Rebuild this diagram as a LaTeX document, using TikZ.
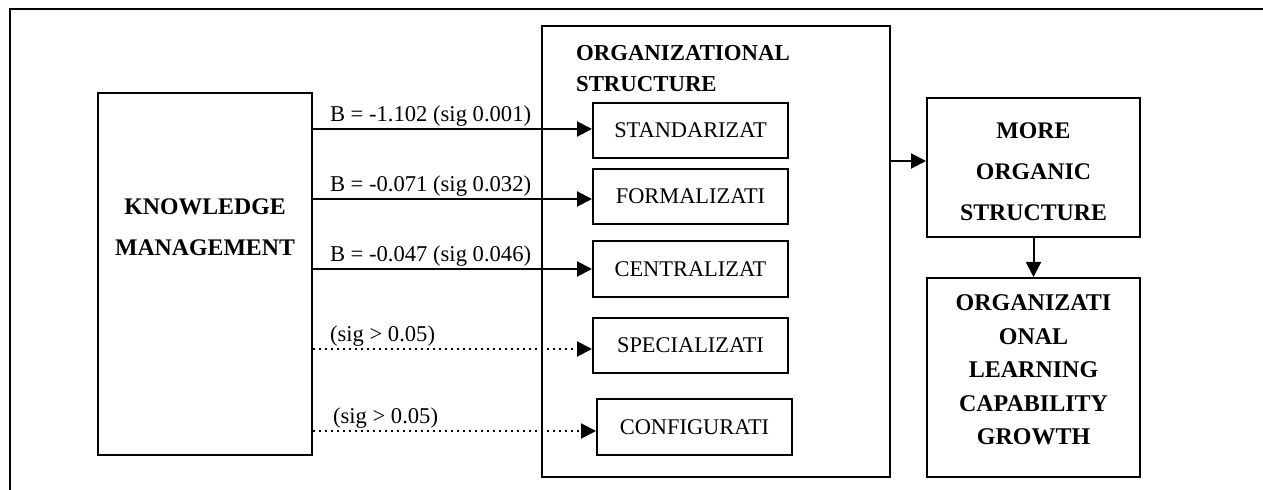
\documentclass[tikz,border=0pt]{standalone}
\usepackage{fontspec}
\setmainfont{Liberation Serif}
\usepackage{tikz}
\usetikzlibrary{arrows.meta,positioning,calc}

\tikzset{
	box/.style={draw,line width=1pt,inner sep=0pt},
	smallbox/.style={box,minimum width=97.5pt,minimum height=27.5pt,font=\fontsize{11.2}{13}\selectfont},
	btxt/.style={align=center,font=\bfseries\fontsize{11.9}{20.5}\selectfont},
	lbl/.style={anchor=base west,inner sep=0pt,font=\fontsize{11.3}{13}\selectfont},
	sigline/.style={line width=1pt,-{Triangle[length=7.5pt,width=7.5pt]}},
	nsline/.style={sigline,dotted}
}

\begin{document}
\begin{tikzpicture}[x=0.5pt,y=-0.5pt]
		\useasboundingbox (0,0) rectangle (1263,490);
		% outer frame
		\draw[line width=1pt] (10,490) |- (1263,9);
		% knowledge management
		\node[box,minimum width=107pt,minimum height=181pt] (km) at (205,274) {};
		\node[btxt] (kmtxt) at (205,227) {KNOWLEDGE\\MANAGEMENT};
		% organizational structure
		\node[box,minimum width=174pt,minimum height=225.5pt] (org) at (716,251.5) {};
		\node[btxt,align=left,anchor=north west,font=\bfseries\fontsize{11.4}{15.5}\selectfont] (orgtxt) at (569,38) {ORGANIZATIONAL\\STRUCTURE};
		\node[smallbox] (std) at (690.5,130.5) {STANDARIZAT};
		\node[smallbox] (form) at (690.5,196.5) {FORMALIZATI};
		\node[smallbox,minimum height=28pt] (cent) at (690.5,269) {CENTRALIZAT};
		\node[smallbox] (spec) at (690.5,345.5) {SPECIALIZATI};
		\node[smallbox,minimum height=28pt] (conf) at (694.5,427) {CONFIGURATI};
		% outcomes
		\node[box,minimum width=106.5pt,minimum height=69.5pt] (more) at (1033.5,167.5) {};
		\node[btxt] (moretxt) at (1033.5,172) {MORE\\ORGANIC\\STRUCTURE};
		\node[box,minimum width=106.5pt,minimum height=99.5pt] (olc) at (1033.5,377.5) {};
		\node[btxt,font=\bfseries\fontsize{12}{16.75}\selectfont] (olctxt) at (1033.5,370) {ORGANIZATI\\ONAL\\LEARNING\\CAPABILITY\\GROWTH};

		\draw[sigline] (km.east |- 0,129) -- (std.west |- 0,129) node[lbl,pos=0,xshift=8pt,yshift=3.5pt] {B = -1.102 (sig 0.001)};
		\draw[sigline] (km.east |- 0,199) -- (form.west |- 0,199) node[lbl,pos=0,xshift=8pt,yshift=3.5pt] {B = -0.071 (sig 0.032)};
		\draw[sigline] (km.east |- cent.west) -- (cent.west) node[lbl,pos=0,xshift=8pt,yshift=3.5pt] {B = -0.047 (sig 0.046)};
		\draw[nsline] (km.east |- 0,349) -- (spec.west |- 0,349) node[lbl,pos=0,xshift=8pt,yshift=3.5pt] {(sig > 0.05)};
		\draw[nsline] (km.east |- 0,431) -- (conf.west |- 0,431) node[lbl,pos=0,xshift=9.5pt,yshift=3.5pt] {(sig > 0.05)};
		\draw[sigline] (org.east |- 0,161) -- (more.west |- 0,161);
		\draw[sigline] (more.south) -- (olc.north);
	\end{tikzpicture}
\end{document}
